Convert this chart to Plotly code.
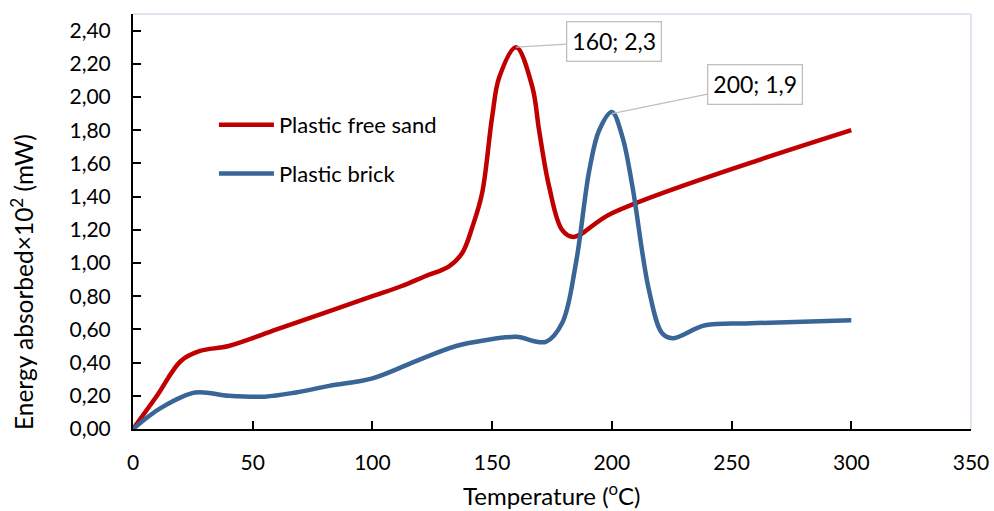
import plotly.graph_objects as go

# ---- data ----
temp_sand = [0, 10, 20, 28, 40, 60, 80, 100, 112, 122, 132, 137.5, 141.8, 145.8, 150, 153, 160, 166.8, 169.6, 173.8, 179.2, 184, 200, 300]
energy_sand = [0.0, 0.2, 0.41, 0.47, 0.5, 0.6, 0.7, 0.8, 0.86, 0.92, 0.98, 1.06, 1.22, 1.42, 1.88, 2.12, 2.3, 2.06, 1.8, 1.46, 1.2, 1.157, 1.3, 1.8]

temp_brick = [0, 12, 26, 40, 55, 68, 82, 100, 120, 135, 147, 160, 172.4, 179.3, 185, 190.6, 194.7, 200, 204.4, 208.6, 215.5, 221, 225.3, 239, 258, 300]
energy_brick = [0.0, 0.13, 0.22, 0.2, 0.195, 0.22, 0.26, 0.305, 0.42, 0.5, 0.535, 0.555, 0.525, 0.64, 1.0, 1.56, 1.8, 1.91, 1.76, 1.46, 0.836, 0.577, 0.547, 0.625, 0.637, 0.655]

series_names = ["Plastic free sand", "Plastic brick"]
series_colors = ["#C00000", "#3A6597"]

peak_points = [(160, 2.3), (200, 1.9)]
peak_offsets = [(98, -6), (143, -29)]

x_ticks = [0, 50, 100, 150, 200, 250, 300, 350]
y_ticks = [0.0, 0.2, 0.4, 0.6, 0.8, 1.0, 1.2, 1.4, 1.6, 1.8, 2.0, 2.2, 2.4]

FONT = "Lato, 'Open Sans', sans-serif"

fig = go.Figure()
for i, (xs, ys) in enumerate([(temp_sand, energy_sand), (temp_brick, energy_brick)]):
    fig.add_trace(go.Scatter(
        x=xs, y=ys, mode="lines", name=series_names[i],
        legendgroup=f"g{i}",
        line=dict(color=series_colors[i], width=4.5, shape="spline", smoothing=1.0),
        hoverinfo="x+y",
    ))

def fmt(v):
    return ("%g" % v).replace(".", ",")

annotations = []
for (px, py), (ax, ay) in zip(peak_points, peak_offsets):
    annotations.append(dict(
        x=px, y=py, xref="x", yref="y",
        text=f"{fmt(px)}; {fmt(py)}",
        showarrow=True, arrowhead=0, arrowwidth=1.3, arrowcolor="#BFBFBF",
        ax=ax, ay=ay, bgcolor="white", bordercolor="#BFBFBF", borderwidth=1.3,
        borderpad=5, font=dict(family=FONT, size=23, color="black"),
    ))

# axis titles
annotations.append(dict(
    text="Energy absorbed×10<sup>2</sup> (mW)", textangle=-90,
    xref="paper", yref="paper", x=-0.1325, y=0.354,
    xanchor="center", yanchor="middle", showarrow=False,
    font=dict(family=FONT, size=24.5, color="black"),
))
annotations.append(dict(
    text="Temperature (<sup>o</sup>C)",
    xref="paper", yref="paper", x=0.5, y=-0.156,
    xanchor="center", yanchor="middle", showarrow=False,
    font=dict(family=FONT, size=24, color="black"),
))

fig.update_layout(
    width=994, height=511,
    margin=dict(l=133, r=23, t=14, b=82, autoexpand=False),
    paper_bgcolor="white", plot_bgcolor="white",
    separators=",.",
    font=dict(family=FONT, size=21, color="black"),
    showlegend=True,
    legend=dict(
        x=0.0966, y=0.783, xanchor="left", yanchor="top",
        bgcolor="rgba(0,0,0,0)", tracegroupgap=17,
        font=dict(family=FONT, size=22, color="black"),
        itemwidth=55,
    ),
    annotations=annotations,
    shapes=[
        dict(type="line", xref="paper", yref="paper", x0=0, x1=1, y0=1, y1=1,
             line=dict(color="#DCE5F0", width=2), layer="below"),
        dict(type="line", xref="paper", yref="paper", x0=1, x1=1, y0=0, y1=1,
             line=dict(color="#DCE5F0", width=2), layer="below"),
    ],
)

fig.update_xaxes(
    range=[0, 350], tickvals=x_ticks, ticktext=[str(t) for t in x_ticks],
    showgrid=False, zeroline=False, showline=True, linecolor="black", linewidth=2,
    ticks="inside", ticklen=8, tickwidth=2, tickcolor="black", automargin=False,
    ticklabelstandoff=14, tickfont=dict(family=FONT, size=21, color="black"),
)
fig.update_yaxes(
    range=[0, 2.5], tickvals=y_ticks, tickformat=".2f",
    showgrid=False, zeroline=False, showline=True, linecolor="black", linewidth=2,
    ticks="inside", ticklen=8, tickwidth=2, tickcolor="black", automargin=False,
    ticklabelstandoff=16, tickfont=dict(family=FONT, size=21, color="black"),
)

fig.write_html("out.html", config={"displayModeBar": False},
               post_script="document.body.style.margin='0';")
